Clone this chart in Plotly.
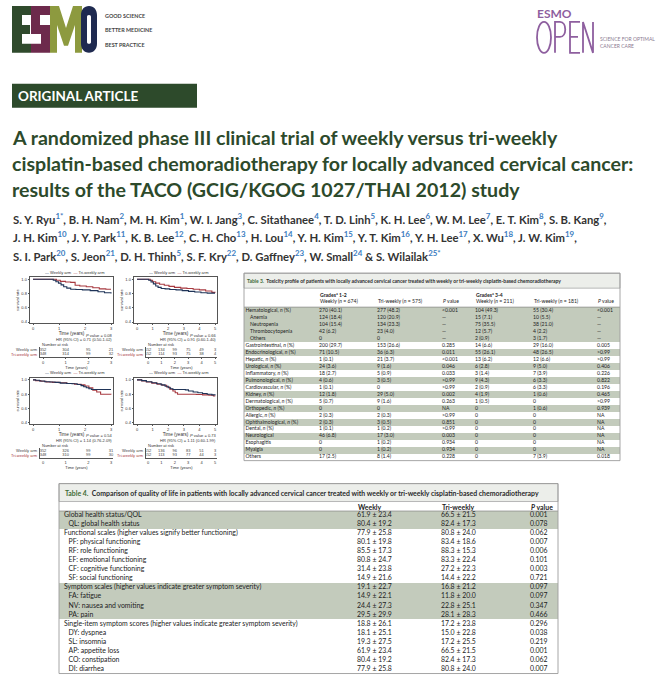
import plotly.graph_objects as go

W, H = 667, 680

# ---------------- Kaplan-Meier panels ----------------
km_years = [3, 5, 3, 5]

km_weekly_t = [
    [0, 0.68, 0.78, 0.88, 0.98, 1.08, 1.18, 1.3, 1.45, 1.65, 1.9, 2.2, 2.5, 2.75, 3.0],
    [0, 0.6, 0.75, 0.9, 1.05, 1.2, 1.35, 1.55, 1.8, 2.1, 2.5, 2.9, 3.3, 3.7, 4.1, 4.5, 5.0],
    [0, 0.1, 0.25, 0.45, 0.65, 0.85, 1.05, 1.3, 1.5, 1.7, 1.85, 1.95, 2.05, 2.15, 2.25, 3.0],
    [0, 0.3, 0.6, 0.95, 1.25, 1.55, 1.8, 2.0, 2.15, 2.3, 3.1, 3.3, 3.6, 3.9, 4.2, 4.5, 4.8, 5.0],
]
km_weekly_s = [
    [1.0, 1.0, 0.985, 0.965, 0.945, 0.92, 0.895, 0.875, 0.86, 0.855, 0.85, 0.84, 0.825, 0.81, 0.80],
    [1.0, 1.0, 0.985, 0.96, 0.935, 0.905, 0.885, 0.87, 0.865, 0.855, 0.85, 0.84, 0.83, 0.82, 0.81, 0.805, 0.805],
    [1.0, 0.995, 0.985, 0.975, 0.97, 0.965, 0.955, 0.95, 0.945, 0.935, 0.92, 0.905, 0.89, 0.875, 0.865, 0.865],
    [1.0, 0.99, 0.975, 0.96, 0.945, 0.93, 0.91, 0.89, 0.875, 0.865, 0.86, 0.845, 0.83, 0.82, 0.81, 0.80, 0.79, 0.785],
]
km_tri_t = [
    [0, 0.75, 0.9, 1.05, 1.25, 1.45, 1.62, 1.8, 2.05, 2.3, 2.55, 2.8, 3.0],
    [0, 0.7, 0.85, 1.0, 1.2, 1.45, 1.75, 2.05, 2.4, 2.8, 3.2, 3.6, 4.0, 4.4, 4.8, 5.0],
    [0, 0.1, 0.3, 0.5, 0.75, 1.0, 1.3, 1.6, 1.85, 2.0, 2.15, 2.3, 2.45, 2.6, 3.0],
    [0, 0.3, 0.6, 0.95, 1.3, 1.6, 1.9, 2.1, 2.3, 2.45, 2.6, 3.8, 4.2, 4.6, 4.9, 5.0],
]
km_tri_s = [
    [1.0, 1.0, 0.985, 0.97, 0.96, 0.955, 0.915, 0.905, 0.895, 0.88, 0.865, 0.86, 0.86],
    [1.0, 1.0, 0.985, 0.965, 0.945, 0.93, 0.915, 0.9, 0.885, 0.875, 0.87, 0.86, 0.85, 0.835, 0.815, 0.81],
    [1.0, 0.99, 0.98, 0.97, 0.965, 0.96, 0.95, 0.94, 0.93, 0.915, 0.89, 0.855, 0.83, 0.80, 0.795],
    [1.0, 0.985, 0.97, 0.955, 0.94, 0.925, 0.90, 0.87, 0.845, 0.82, 0.80, 0.795, 0.79, 0.785, 0.775, 0.77],
]
km_risk_weekly = [[352, 304, 95, 21], [152, 134, 99, 75, 49, 3], [352, 326, 99, 31], [152, 136, 96, 83, 51, 3]]
km_risk_tri = [[348, 314, 99, 32], [152, 114, 93, 75, 38, 4], [348, 310, 99, 30], [152, 113, 93, 77, 44, 3]]
km_pvalue = ["<i>P</i> value = 0.08", "<i>P</i> value = 0.66", "<i>P</i> value = 0.54", "<i>P</i> value = 0.73"]
km_hr = ["HR (95% CI) = 0.71 (0.50-1.02)", "HR (95% CI) = 0.91 (0.60-1.40)",
         "HR (95% CI) = 1.14 (0.76-2.09)", "HR (95% CI) = 1.11 (0.60-1.99)"]
km_yticks = [0.4, 0.6, 0.8, 1.0]

# ---------------- Table 3 ----------------
t3_labels = ["Hematological, <i>n</i> (%)", "Anemia", "Neutropenia", "Thrombocytopenia", "Others",
             "Gastrointestinal, <i>n</i> (%)", "Endocrinological, <i>n</i> (%)", "Hepatic, <i>n</i> (%)",
             "Urological, <i>n</i> (%)", "Inflammatory, <i>n</i> (%)", "Pulmonological, <i>n</i> (%)",
             "Cardiovascular, <i>n</i> (%)", "Kidney, <i>n</i> (%)", "Dermatological, <i>n</i> (%)",
             "Orthopedic, <i>n</i> (%)", "Allergic, <i>n</i> (%)", "Ophthalmological, <i>n</i> (%)",
             "Dental, <i>n</i> (%)", "Neurological", "Esophagitis", "Myalgia", "Others"]
t3_level = [0, 1, 1, 1, 1] + [0] * 17
t3_g12_weekly = ["270 (40.1)", "124 (18.4)", "104 (15.4)", "42 (6.2)", "0", "200 (29.7)", "71 (10.5)",
                 "1 (0.1)", "24 (3.6)", "18 (2.7)", "4 (0.6)", "1 (0.1)", "12 (1.8)", "5 (0.7)", "0",
                 "2 (0.3)", "2 (0.3)", "1 (0.1)", "46 (6.8)", "0", "0", "17 (2.5)"]
t3_g12_tri = ["277 (48.2)", "120 (20.9)", "134 (23.3)", "23 (4.0)", "0", "153 (26.6)", "36 (6.3)",
              "21 (3.7)", "9 (1.6)", "5 (0.9)", "3 (0.5)", "0", "29 (5.0)", "9 (1.6)", "0",
              "2 (0.3)", "3 (0.5)", "1 (0.2)", "17 (3.0)", "1 (0.2)", "1 (0.2)", "8 (1.4)"]
t3_g12_p = ["<0.001", "\u2014", "\u2014", "\u2014", "\u2014", "0.285", "0.011", "<0.001", "0.046", "0.033",
            ">0.99", ">0.99", "0.002", "0.263", "NA", ">0.99", "0.851", ">0.99", "0.003", "0.934",
            "0.934", "0.228"]
t3_g34_weekly = ["104 (49.3)", "15 (7.1)", "75 (35.5)", "12 (5.7)", "2 (0.9)", "14 (6.6)", "55 (26.1)",
                 "13 (6.2)", "6 (2.8)", "3 (1.4)", "9 (4.3)", "2 (0.9)", "4 (1.9)", "1 (0.5)", "0",
                 "0", "0", "0", "0", "0", "0", "0"]
t3_g34_tri = ["55 (30.4)", "10 (5.5)", "38 (21.0)", "4 (2.2)", "3 (1.7)", "29 (16.0)", "48 (26.5)",
              "12 (6.6)", "9 (5.0)", "7 (3.9)", "6 (3.3)", "6 (3.3)", "1 (0.6)", "0", "1 (0.6)",
              "0", "0", "0", "0", "0", "0", "7 (3.9)"]
t3_g34_p = ["<0.001", "\u2014", "\u2014", "\u2014", "\u2014", "0.005", ">0.99", ">0.99", "0.406", "0.226",
            "0.822", "0.196", "0.465", ">0.99", "0.939", "NA", "NA", "NA", "NA", "NA", "NA", "0.018"]
t3_shaded = [1, 1, 1, 1, 1, 0, 1, 0, 1, 0, 1, 0, 1, 0, 1, 0, 1, 0, 1, 0, 1, 0]
t3_head_top = ["<b>Grades<sup>a</sup> 1-2</b>", "", "", "<b>Grades<sup>a</sup> 3-4</b>", "", ""]
t3_head = ["Weekly (<i>n</i> = 674)", "Tri-weekly (<i>n</i> = 575)", "<i>P</i> value",
           "Weekly (<i>n</i> = 211)", "Tri-weekly (<i>n</i> = 181)", "<i>P</i> value"]
t3_title = ("Toxicity profile of patients with locally advanced cervical cancer treated with "
            "weekly or tri-weekly cisplatin-based chemoradiotherapy")

# ---------------- Table 4 ----------------
t4_labels = ["Global health status/QOL", "QL: global health status",
             "Functional scales (higher values signify better functioning)", "PF: physical functioning",
             "RF: role functioning", "EF: emotional functioning", "CF: cognitive functioning",
             "SF: social functioning", "Symptom scales (higher values indicate greater symptom severity)",
             "FA: fatigue", "NV: nausea and vomiting", "PA: pain",
             "Single-item symptom scores (higher values indicate greater symptom severity)",
             "DY: dyspnea", "SL: insomnia", "AP: appetite loss", "CO: constipation", "DI: diarrhea"]
t4_level = [0, 1, 0, 1, 1, 1, 1, 1, 0, 1, 1, 1, 0, 1, 1, 1, 1, 1]
t4_weekly = ["61.9 \u00b1 23.4", "80.4 \u00b1 19.2", "77.9 \u00b1 25.8", "80.1 \u00b1 19.8", "85.5 \u00b1 17.3",
             "80.8 \u00b1 24.7", "31.4 \u00b1 23.8", "14.9 \u00b1 21.6", "19.1 \u00b1 22.7", "14.9 \u00b1 22.1",
             "24.4 \u00b1 27.3", "29.5 \u00b1 29.9", "18.8 \u00b1 26.1", "18.1 \u00b1 25.1", "19.3 \u00b1 27.5",
             "61.9 \u00b1 23.4", "80.4 \u00b1 19.2", "77.9 \u00b1 25.8"]
t4_tri = ["66.5 \u00b1 21.5", "82.4 \u00b1 17.3", "80.8 \u00b1 24.0", "83.4 \u00b1 18.6", "88.3 \u00b1 15.3",
          "83.3 \u00b1 22.4", "27.2 \u00b1 22.3", "14.4 \u00b1 22.2", "16.8 \u00b1 21.2", "11.8 \u00b1 20.0",
          "22.8 \u00b1 25.1", "28.1 \u00b1 28.3", "17.2 \u00b1 23.8", "15.0 \u00b1 22.8", "17.2 \u00b1 25.5",
          "66.5 \u00b1 21.5", "82.4 \u00b1 17.3", "80.8 \u00b1 24.0"]
t4_p = ["0.001", "0.078", "0.062", "0.007", "0.006", "0.101", "0.003", "0.721", "0.097", "0.097",
        "0.347", "0.466", "0.296", "0.038", "0.219", "0.001", "0.062", "0.007"]
t4_shaded = [1, 1, 0, 0, 0, 0, 0, 0, 1, 1, 1, 1, 0, 0, 0, 0, 0, 0]
t4_head = ["<b>Weekly</b>", "<b>Tri-weekly</b>", "<b><i>P</i> value</b>"]
t4_title = ("Comparison of quality of life in patients with locally advanced cervical cancer treated "
            "with weekly or tri-weekly cisplatin-based chemoradiotherapy")

# ---------------- page text ----------------
title_lines = ["A randomized phase III clinical trial of weekly versus tri-weekly",
               "cisplatin-based chemoradiotherapy for locally advanced cervical cancer:",
               "results of the TACO (GCIG/KGOG 1027/THAI 2012) study"]
authors = [
    [("S. Y. Ryu", "1*"), ("B. H. Nam", "2"), ("M. H. Kim", "1"), ("W. I. Jang", "3"), ("C. Sitathanee", "4"),
     ("T. D. Linh", "5"), ("K. H. Lee", "6"), ("W. M. Lee", "7"), ("E. T. Kim", "8"), ("S. B. Kang", "9")],
    [("J. H. Kim", "10"), ("J. Y. Park", "11"), ("K. B. Lee", "12"), ("C. H. Cho", "13"), ("H. Lou", "14"),
     ("Y. H. Kim", "15"), ("Y. T. Kim", "16"), ("Y. H. Lee", "17"), ("X. Wu", "18"), ("J. W. Kim", "19")],
    [("S. I. Park", "20"), ("S. Jeon", "21"), ("D. H. Thinh", "5"), ("S. F. Kry", "22"), ("D. Gaffney", "23"),
     ("W. Small", "24"), ("S. Wilailak", "25*")],
]

# ---------------- styling ----------------
FONT = "Lato, 'Open Sans', sans-serif"
KMFONT = "'Liberation Sans', Arial, sans-serif"
NAVY = "#1f3458"
RED = "#a83a40"
GREEN = "#2d4a2b"
PURPLE = "#8e5f9f"
SHADE = "#c3cbbc"
TITLEBG = "#eceeea"
BORDER = "#9c9c9c"
TXT = "#222222"
BLUE = "#3b7cc0"


def dom_x(a, b):
    return [a / W, b / W]


def dom_y(a, b):
    return [1 - b / H, 1 - a / H]


def axis_range(p0, p1, zero_px, end_px, end_val):
    k = (end_px - zero_px) / end_val
    return [(p0 - zero_px) / k, (p1 - zero_px) / k]


def note(x, y, text, size, color=TXT, anchor="left", family=FONT):
    return dict(x=x, y=y, xref="x", yref="y", text=text, showarrow=False, xanchor=anchor,
                yanchor="middle", borderpad=0, font=dict(size=size, color=color, family=family))


fig = go.Figure()
layout = dict(width=W, height=H, margin=dict(l=0, r=0, t=0, b=0), paper_bgcolor="white",
              plot_bgcolor="rgba(0,0,0,0)", showlegend=False, bargap=0)
annotations = []
shapes = []

# page axis in pixel units, used for all decoration
layout["xaxis"] = dict(domain=[0, 1], range=[0, W], visible=False, fixedrange=True)
layout["yaxis"] = dict(domain=[0, 1], range=[H, 0], visible=False, fixedrange=True)

# ---- header logos ----
esmo_paths = [
    ("M12,5 H31 V14 H22 V24 H30 V33 H22 V43 H31 V52 H12 Z", "#2f4a2c"),
    ("M31,5 H50 V14 H40 V24 H50 V52 H31 V43 H41 V33 H31 Z", "#6d2a4c"),
    ("M50,52 V5 H59 L66,27 L73,5 H82 V52 H75 V24 L68,45 H64 L57,24 V52 Z", "#8d9a3f"),
    ("M89,5 C94,5 97,9 97,14 V43 C97,48 94,52 89,52 C84,52 81,48 81,43 V14 C81,9 84,5 89,5 Z "
     "M89,14 C87.5,14 87,15 87,16 V41 C87,42 87.5,43 89,43 C90.5,43 91,42 91,41 V16 C91,15 90.5,14 89,14 Z",
     "#1f2a50"),
]
for path, col in esmo_paths:
    shapes.append(dict(type="path", xref="x", yref="y", path=path, fillcolor=col, line=dict(width=0)))
for i, tag in enumerate(["GOOD SCIENCE", "BETTER MEDICINE", "BEST PRACTICE"]):
    annotations.append(note(104, 15 + 14.5 * i, "<b>" + tag + "</b>", 5.4, "#444444"))

open_paths = ["M555,52 V21 H560 C567,21 567,36 560,36 H555", "M580,21 H570 V52 H580 M570,36 H578",
              "M583,52 V21 L593,52 V21"]
shapes.append(dict(type="circle", xref="x", yref="y", x0=537, x1=551, y0=21, y1=52,
                   line=dict(color=PURPLE, width=1.8)))
for path in open_paths:
    shapes.append(dict(type="path", xref="x", yref="y", path=path, line=dict(color=PURPLE, width=1.8)))
annotations.append(note(536, 13, "<b>ESMO</b>", 12, PURPLE))
annotations.append(note(599, 38, "SCIENCE FOR OPTIMAL", 5, "#8a7a90"))
annotations.append(note(599, 45, "CANCER CARE", 5, "#8a7a90"))

shapes.append(dict(type="rect", xref="x", yref="y", x0=12, x1=197, y0=83, y1=107, fillcolor=GREEN,
                   line=dict(width=0)))
annotations.append(note(17, 95, "<b>ORIGINAL ARTICLE</b>", 13.5, "white"))

for i, line in enumerate(title_lines):
    annotations.append(note(11, 137 + 26 * i, "<b>" + line + "</b>", 19.6, GREEN))

for i, row in enumerate(authors):
    parts = []
    for j, (name, aff) in enumerate(row):
        sep = "" if j == len(row) - 1 else (" &" if (i == 2 and j == len(row) - 2) else ",")
        parts.append(name + "<sup><span style='color:%s'>%s</span></sup>%s" % (BLUE, aff, sep))
    if i < 2:
        parts[-1] += ","
    annotations.append(note(12, 218 + 18.5 * i, "<b>" + " ".join(parts) + "</b>", 11.3, "#333333"))

# ---- Kaplan-Meier panels ----
km_boxes = [(30, 277, 113, 323), (134, 277, 217, 323), (30, 378, 113, 424), (134, 378, 217, 424)]
km_zero = [(33, 111), (137, 215), (33, 111), (137, 215)]
nar_boxes = [(40, 347, 113, 357), (146, 347, 217, 357), (40, 448, 113, 458), (146, 448, 217, 458)]
nar_zero = [(43, 111), (148, 215), (43, 111), (148, 215)]
SMALL = 4

for p in range(4):
    n = km_years[p]
    ax = 2 + p
    x0, y0, x1, y1 = km_boxes[p]
    z0, z1 = km_zero[p]
    tick_font = dict(size=SMALL, family=KMFONT, color="#333")
    layout["xaxis%d" % ax] = dict(domain=dom_x(x0, x1), anchor="y%d" % ax, range=axis_range(x0, x1, z0, z1, n),
                                  tickvals=list(range(n + 1)), showgrid=False, zeroline=False, showline=True,
                                  mirror=True, linecolor="#555", linewidth=0.6, ticks="outside", ticklen=1.5,
                                  tickwidth=0.5, tickcolor="#555", tickfont=tick_font, fixedrange=True,
                                  title=dict(text="Time (years)", font=dict(size=4.6, family=KMFONT, color="#333"),
                                             standoff=0))
    layout["yaxis%d" % ax] = dict(domain=dom_y(y0, y1), anchor="x%d" % ax, range=[0.386, 1.028],
                                  tickvals=km_yticks, ticktext=["%.1f" % v for v in km_yticks],
                                  showgrid=False, zeroline=False, showline=True, mirror=True, linecolor="#555",
                                  linewidth=0.6, ticks="outside", ticklen=1.5, tickwidth=0.5, tickcolor="#555",
                                  tickfont=tick_font, fixedrange=True,
                                  title=dict(text="survival rate", font=dict(size=SMALL, family=KMFONT, color="#333"),
                                             standoff=1))
    fig.add_trace(go.Scatter(x=km_tri_t[p], y=km_tri_s[p], mode="lines", line=dict(shape="hv", color=RED, width=1.1),
                             xaxis="x%d" % ax, yaxis="y%d" % ax, hoverinfo="skip"))
    fig.add_trace(go.Scatter(x=km_weekly_t[p], y=km_weekly_s[p], mode="lines",
                             line=dict(shape="hv", color=NAVY, width=1.1),
                             xaxis="x%d" % ax, yaxis="y%d" % ax, hoverinfo="skip"))
    legend_txt = ("<span style='color:%s'>\u2014</span> Weekly arm  <span style='color:%s'>\u2014</span> "
                  "Tri-weekly arm" % (NAVY, RED))
    annotations.append(note((x0 + x1) / 2 + 3, y0 - 5, legend_txt, SMALL, "#333", "center", KMFONT))
    annotations.append(note(x1, y1 + 12, km_pvalue[p], SMALL, "#333", "right", KMFONT))
    annotations.append(note(x1, y1 + 16.5, km_hr[p], SMALL, "#333", "right", KMFONT))

    # number at risk
    ax = 6 + p
    nx0, ny0, nx1, ny1 = nar_boxes[p]
    m0, m1 = nar_zero[p]
    layout["xaxis%d" % ax] = dict(domain=dom_x(nx0, nx1), anchor="y%d" % ax, range=axis_range(nx0, nx1, m0, m1, n),
                                  tickvals=list(range(n + 1)), showgrid=False, zeroline=False, showline=True,
                                  linecolor="#555", linewidth=0.6, ticks="outside", ticklen=1, tickwidth=0.5,
                                  tickcolor="#555", tickfont=dict(size=SMALL, family=KMFONT, color="#333"),
                                  fixedrange=True,
                                  title=dict(text="Time (years)", font=dict(size=SMALL, family=KMFONT, color="#333"),
                                             standoff=0))
    layout["yaxis%d" % ax] = dict(domain=dom_y(ny0, ny1), anchor="x%d" % ax, range=[-0.75, 1.75],
                                  showticklabels=False, showgrid=False, zeroline=False, showline=True,
                                  linecolor="#555", linewidth=0.6, fixedrange=True)
    fig.add_trace(go.Scatter(x=list(range(n + 1)), y=[1] * (n + 1), text=[str(v) for v in km_risk_weekly[p]],
                             mode="text", textfont=dict(size=SMALL, family=KMFONT, color="#444"),
                             xaxis="x%d" % ax, yaxis="y%d" % ax, hoverinfo="skip", cliponaxis=False))
    fig.add_trace(go.Scatter(x=list(range(n + 1)), y=[0] * (n + 1), text=[str(v) for v in km_risk_tri[p]],
                             mode="text", textfont=dict(size=SMALL, family=KMFONT, color="#444"),
                             xaxis="x%d" % ax, yaxis="y%d" % ax, hoverinfo="skip", cliponaxis=False))
    annotations.append(note(nx0 + 1, ny0 - 2.5, "Number at risk", SMALL, "#333", "left", KMFONT))
    annotations.append(note(nx0 - 1.5, ny0 + 3, "Weekly arm", SMALL, "#444", "right", KMFONT))
    annotations.append(note(nx0 - 1.5, ny0 + 7.5, "Tri-weekly arm", SMALL, RED, "right", KMFONT))


def add_table(ax, box, rows_top, title_bottom, labels, level, columns, col_x, label_x, shaded, size):
    """rows drawn on their own axis: x in pixels, y = row index"""
    x0, y0, x1, y1 = box
    nrows = len(labels)
    layout["xaxis%d" % ax] = dict(domain=dom_x(x0, x1), anchor="y%d" % ax, range=[x0, x1], visible=False,
                                  fixedrange=True)
    layout["yaxis%d" % ax] = dict(domain=dom_y(rows_top, y1), anchor="x%d" % ax, range=[nrows - 0.5, -0.5],
                                  visible=False, fixedrange=True)
    rows = list(range(nrows))
    shade_rows = [r for r in rows if shaded[r]]
    fig.add_trace(go.Bar(y=shade_rows, x=[x1 - x0] * len(shade_rows), base=x0, orientation="h", width=1,
                         marker=dict(color=SHADE, line=dict(width=0)), xaxis="x%d" % ax, yaxis="y%d" % ax,
                         hoverinfo="skip"))
    for lv in (0, 1):
        sel = [r for r in rows if level[r] == lv]
        fig.add_trace(go.Scatter(x=[label_x[lv]] * len(sel), y=sel, text=[labels[r] for r in sel], mode="text",
                                 textposition="middle right", textfont=dict(size=size, color=TXT, family=FONT),
                                 xaxis="x%d" % ax, yaxis="y%d" % ax, hoverinfo="skip", cliponaxis=False))
    for cx, col in zip(col_x, columns):
        fig.add_trace(go.Scatter(x=[cx] * nrows, y=rows, text=col, mode="text", textposition="middle right",
                                 textfont=dict(size=size, color=TXT, family=FONT), xaxis="x%d" % ax,
                                 yaxis="y%d" % ax, hoverinfo="skip", cliponaxis=False))
    shapes.append(dict(type="rect", xref="x", yref="y", x0=x0, x1=x1, y0=y0, y1=title_bottom, fillcolor=TITLEBG,
                       line=dict(color=BORDER, width=0.7), layer="below"))
    shapes.append(dict(type="line", xref="x", yref="y", x0=x0, x1=x1, y0=rows_top, y1=rows_top,
                       line=dict(color="#777", width=0.6)))
    shapes.append(dict(type="rect", xref="x", yref="y", x0=x0, x1=x1, y0=y0, y1=y1,
                       line=dict(color=BORDER, width=0.9)))


# ---- Table 3 ----
T3 = (244, 273, 620, 461)
t3_cols_x = [319, 377, 442, 475, 533, 597]
add_table(10, T3, 307, 288, t3_labels, t3_level,
          [t3_g12_weekly, t3_g12_tri, t3_g12_p, t3_g34_weekly, t3_g34_tri, t3_g34_p],
          t3_cols_x, (245.5, 250), t3_shaded, 5.1)
annotations.append(note(245.5, 280.5, "<b><span style='color:#3d6b35'>Table 3.</span>  " + t3_title + "</b>",
                        5.0, "#2a2a2a"))
for cx, top, sub in zip(t3_cols_x, t3_head_top, t3_head):
    if top:
        annotations.append(note(cx, 294, top, 5.1))
    annotations.append(note(cx, 300.5, sub, 5.1))

# ---- Table 4 ----
T4 = (59, 484, 558, 674.5)
t4_cols_x = [357, 441, 530]
add_table(11, T4, 511.5, 502, t4_labels, t4_level, [t4_weekly, t4_tri, t4_p], t4_cols_x, (64, 68.5),
          t4_shaded, 6.9)
annotations.append(note(64, 493, "<b><span style='color:#3d6b35'>Table 4.</span>  " + t4_title + "</b>",
                        6.9, "#2a2a2a"))
for cx, head in zip(t4_cols_x, t4_head):
    annotations.append(note(cx, 507, head, 6.9))

layout["annotations"] = annotations
layout["shapes"] = shapes
fig.update_layout(**layout)

fig.write_html("out.html", config={"displayModeBar": False},
               post_script="document.body.style.margin='0';")
